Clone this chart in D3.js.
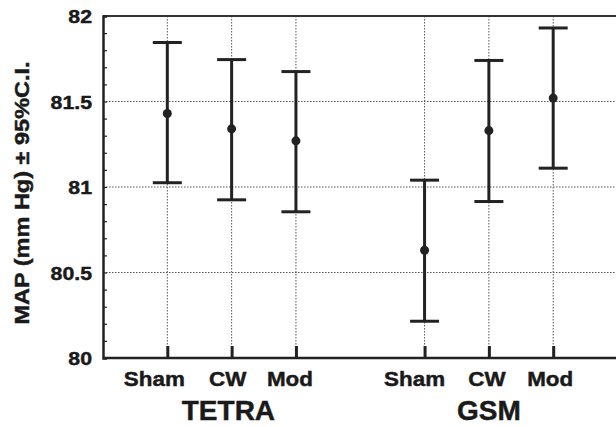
<!DOCTYPE html>
<html>
<head>
<meta charset="utf-8">
<script src="https://cdn.jsdelivr.net/npm/d3@7"></script>
<style>
  body { margin: 0; background: #fff; }
  text { font-family: "Liberation Sans", Arial, Helvetica, sans-serif; font-weight: bold; fill: #1a1a1a; stroke: #1a1a1a; stroke-width: 0.45; }
</style>
</head>
<body>
<svg id="chart" width="616" height="427"></svg>
<script>
// Data
const groups = ["TETRA", "GSM"];
const categories = ["Sham", "CW", "Mod", "Sham", "CW", "Mod"];
const catPos = [1, 2, 3, 5, 6, 7];
const means = [81.43, 81.34, 81.27, 80.63, 81.33, 81.52];
const lower = [81.025, 80.925, 80.855, 80.215, 80.915, 81.11];
const upper = [81.845, 81.745, 81.675, 81.04, 81.74, 81.93];
const yTicks = [80, 80.5, 81, 81.5, 82];

// Layout
const margin = {left: 103, top: 16, bottom: 69};
const W = 616, H = 427;
const ink = "#222";
const stretch = 1.12; // the original font is a bit wider than Arial
const labelShift = [-13, -4, -6, -10, -2, -3]; // labels sit a little left of their ticks

let svg = d3.select("#chart");
let x = d3.scaleLinear().domain([0, 8]).range([margin.left, 617.5]);
let y = d3.scaleLinear().domain([80, 82]).range([H - margin.bottom, margin.top]);

// Grid
let grid = svg.append("g");
grid.selectAll("line.h")
  .data(yTicks.filter(d => d > 80 && d < 82))
  .join("line")
  .attr("x1", x(0)).attr("x2", W)
  .attr("y1", d => y(d)).attr("y2", d => y(d))
  .attr("stroke", "#555").attr("stroke-width", 1)
  .attr("stroke-dasharray", "1.5,1.5");
grid.selectAll("line.v")
  .data(catPos)
  .join("line")
  .attr("x1", d => x(d)).attr("x2", d => x(d))
  .attr("y1", y(82)).attr("y2", y(80))
  .attr("stroke", "#555").attr("stroke-width", 1)
  .attr("stroke-dasharray", "1.5,1.5");

// Frame: top line, left axis, bottom axis
svg.append("line")
  .attr("x1", x(0)).attr("x2", W).attr("y1", y(82)).attr("y2", y(82))
  .attr("stroke", "#333").attr("stroke-width", 2);

let yAxis = d3.axisLeft(y).tickValues(d3.range(80, 82.001, 0.1)).tickSize(-4).tickFormat("");
let ya = svg.append("g").attr("transform", `translate(${x(0)},0)`).call(yAxis);
ya.select(".domain").attr("stroke", ink).attr("stroke-width", 2.5);
ya.selectAll(".tick line").attr("stroke", ink).attr("stroke-width", 1.2);

let xAxis = d3.axisBottom(x).tickValues(catPos).tickSize(-12).tickFormat("");
let xa = svg.append("g").attr("transform", `translate(0,${y(80)})`).call(xAxis);
xa.select(".domain").attr("d", `M${x(0)},0H${W}`).attr("stroke", ink).attr("stroke-width", 2.5);
xa.selectAll(".tick line").attr("stroke", ink).attr("stroke-width", 3);

// Y tick labels
svg.append("g").selectAll("text")
  .data(yTicks)
  .join("text")
  .attr("transform", d => `translate(${x(0) - 11},${y(d) + 7}) scale(${stretch},1)`)
  .attr("text-anchor", "end")
  .attr("font-size", 19)
  .text(d => d);

// Category labels
svg.append("g").selectAll("text")
  .data(categories)
  .join("text")
  .attr("transform", (d, i) => `translate(${x(catPos[i]) + labelShift[i]},${y(80) + 28}) scale(${stretch},1)`)
  .attr("text-anchor", "middle")
  .attr("font-size", 20)
  .text(d => d);

// Group labels
svg.append("g").selectAll("text")
  .data(groups)
  .join("text")
  .attr("transform", (d, i) => `translate(${x(i === 0 ? 1.95 : 6)},${y(80) + 62})`)
  .attr("text-anchor", "middle")
  .attr("font-size", 28)
  .text(d => d);

// Y axis title
svg.append("text")
  .attr("transform", `translate(29,${y(81) + 6}) rotate(-90) scale(${stretch},1)`)
  .attr("text-anchor", "middle")
  .attr("font-size", 21)
  .text("MAP (mm Hg) \u00b1 95%C.I.");

// Error bars
let bars = svg.append("g");
let capHalf = 14.5;
bars.selectAll("line.stem")
  .data(means)
  .join("line")
  .attr("x1", (d, i) => x(catPos[i])).attr("x2", (d, i) => x(catPos[i]))
  .attr("y1", (d, i) => y(lower[i])).attr("y2", (d, i) => y(upper[i]))
  .attr("stroke", ink).attr("stroke-width", 3);
bars.selectAll("line.capU")
  .data(upper)
  .join("line")
  .attr("x1", (d, i) => x(catPos[i]) - capHalf).attr("x2", (d, i) => x(catPos[i]) + capHalf)
  .attr("y1", d => y(d)).attr("y2", d => y(d))
  .attr("stroke", ink).attr("stroke-width", 3);
bars.selectAll("line.capL")
  .data(lower)
  .join("line")
  .attr("x1", (d, i) => x(catPos[i]) - capHalf).attr("x2", (d, i) => x(catPos[i]) + capHalf)
  .attr("y1", d => y(d)).attr("y2", d => y(d))
  .attr("stroke", ink).attr("stroke-width", 3);
bars.selectAll("circle")
  .data(means)
  .join("circle")
  .attr("cx", (d, i) => x(catPos[i]))
  .attr("cy", d => y(d))
  .attr("r", 4.5)
  .attr("fill", ink);
</script>
</body>
</html>
